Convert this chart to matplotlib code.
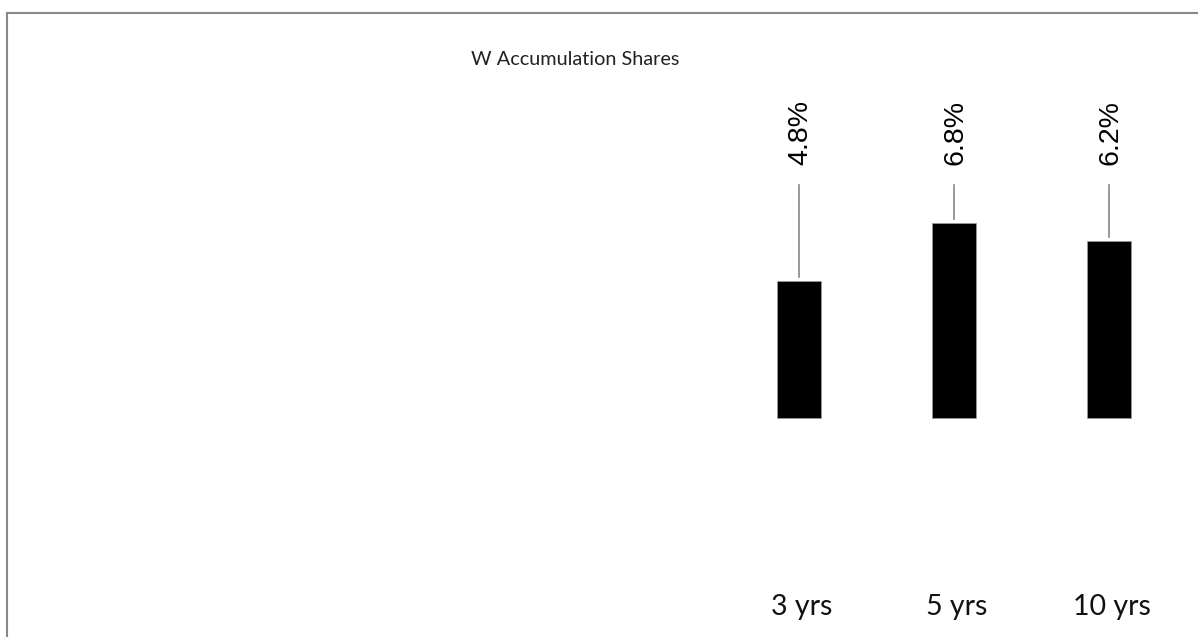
import matplotlib as mpl
mpl.use('Agg')
import numpy as np
import matplotlib.pyplot as plt

# data
periods = ['3 yrs', '5 yrs', '10 yrs']
shares = [4.8, 6.8, 6.2]
title = 'W Accumulation Shares'

W, H, DPI = 1198, 637, 100
fig = plt.figure(figsize=(W / DPI, H / DPI), dpi=DPI)

# axes spans from the frame corner to the figure edges
ax = fig.add_axes([7 / W, 0, 1 - 7 / W, 624 / H])

xpos = np.arange(len(periods))
ax.bar(xpos, shares, width=0.284, color='black', edgecolor='#999999', linewidth=0.6)

# value labels with leader lines
for x, v in zip(xpos, shares):
    ax.plot([x, x], [v + 0.14, 8.15], color='#888888', lw=1.2)
    ax.text(x + 0.01, 8.85, f'{v:.1f}%', rotation=90, ha='center', va='bottom',
            fontsize=20.5, family='Liberation Sans', color='black')

for x, lab in zip(xpos, periods):
    ax.text(x + 0.02, -6.62, lab, ha='center', va='center', fontsize=20.5,
            family='Lato', color='#111111')

ax.text(-1.445, 12.52, title, ha='center', va='center', fontsize=14.3,
        family='Lato', color='#222222')

ax.set_xlim(-5.11, 2.574)
ax.set_ylim(-7.66, 14.16)
ax.set_xticks([])
ax.set_yticks([])
for side in ['right', 'bottom']:
    ax.spines[side].set_visible(False)
for side in ['left', 'top']:
    ax.spines[side].set_color('#888888')
    ax.spines[side].set_linewidth(1.5)

fig.savefig('out.png', dpi=DPI)
plt.close(fig)
